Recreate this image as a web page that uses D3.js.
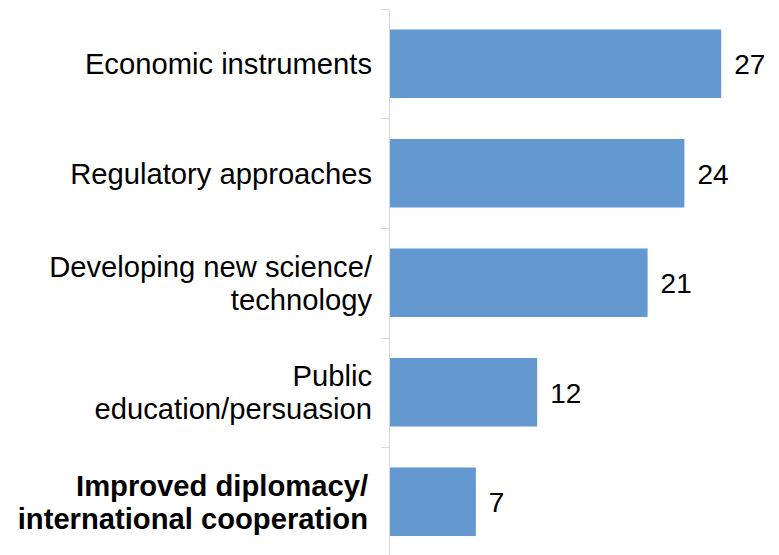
<!DOCTYPE html>
<html>
<head>
<meta charset="utf-8">
<script src="https://cdn.jsdelivr.net/npm/d3@7"></script>
<style>
  html, body { margin: 0; padding: 0; background: #fff; }
  svg { display: block; font-family: "Liberation Sans", Arial, Helvetica, sans-serif; }
</style>
</head>
<body>
<svg id="chart" width="779" height="555"></svg>
<script>
// Approaches to the problem, number of responses
const categories = [
  ["Economic instruments"],
  ["Regulatory approaches"],
  ["Developing new science/", "technology"],
  ["Public", "education/persuasion"],
  ["Improved diplomacy/", "international cooperation"]
];
const values = [27, 24, 21, 12, 7];
const highlighted = [false, false, false, false, true];
const xDomain = [0, 30];

const svg = d3.select("#chart");
const axisX = 389;
const fontSize = 29.2;
const lineGap = 33;

const keys = categories.map((c, i) => i);

const x = d3.scaleLinear().domain(xDomain).range([axisX + 1, 758]);
const y = d3.scaleBand()
  .domain(keys)
  .range([9, 556.5])
  .paddingInner(0.374)
  .paddingOuter(0.187);

// category boundary ticks along the vertical axis
const boundaries = keys.map(k => y(k) - y.step() * y.paddingInner() / 2);
svg.append("g")
  .selectAll("line")
  .data(boundaries)
  .join("line")
  .attr("x1", axisX - 8).attr("x2", axisX)
  .attr("y1", d => Math.round(d) + 0.5).attr("y2", d => Math.round(d) + 0.5)
  .attr("stroke", "#d9d9d9").attr("stroke-width", 1);

svg.append("line")
  .attr("x1", axisX + 0.5).attr("x2", axisX + 0.5)
  .attr("y1", Math.round(boundaries[0]) + 0.5).attr("y2", 555)
  .attr("stroke", "#d9d9d9").attr("stroke-width", 1);

// bars
svg.append("g")
  .selectAll("rect")
  .data(values)
  .join("rect")
  .attr("x", x(0))
  .attr("y", (d, i) => y(i))
  .attr("width", d => x(d) - x(0))
  .attr("height", y.bandwidth())
  .attr("fill", "#6399d0");

// value labels
svg.append("g")
  .selectAll("text")
  .data(values)
  .join("text")
  .attr("x", d => x(d) + 13)
  .attr("y", (d, i) => y(i) + y.bandwidth() / 2 + 10.5)
  .attr("font-size", 28)
  .attr("fill", "#000")
  .text(d => d);

// category labels
const labels = svg.append("g")
  .selectAll("text")
  .data(categories)
  .join("text")
  .attr("text-anchor", "end")
  .attr("font-size", fontSize)
  .attr("font-weight", (d, i) => highlighted[i] ? "bold" : "normal")
  .attr("fill", "#000");

labels.each(function (lines, i) {
  const cy = y(i) + y.bandwidth() / 2;
  const first = cy + 10.5 - (lines.length - 1) * lineGap / 2;
  d3.select(this).selectAll("tspan")
    .data(lines)
    .join("tspan")
    .attr("x", highlighted[i] ? 368 : 372)
    .attr("y", (d, j) => first + j * lineGap)
    .text(d => d);
});
</script>
</body>
</html>
